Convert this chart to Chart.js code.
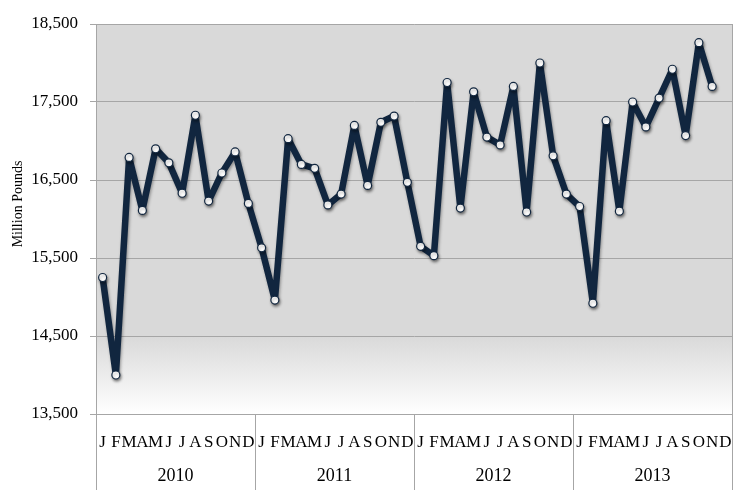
<!DOCTYPE html>
<html>
<head>
<meta charset="utf-8">
<script src="https://cdn.jsdelivr.net/npm/chart.js@4/dist/chart.umd.min.js"></script>
<style>
  html, body { margin: 0; padding: 0; background: #ffffff; }
  #wrap { width: 744px; height: 490px; position: relative; }
</style>
</head>
<body>
<div id="wrap"><canvas id="c" width="744" height="490"></canvas></div>
<script>
// ---- Data ----
const monthLetters = ['J', 'F', 'M', 'A', 'M', 'J', 'J', 'A', 'S', 'O', 'N', 'D'];
const years = ['2010', '2011', '2012', '2013'];
const values2010 = [15250, 14000, 16790, 16110, 16900, 16720, 16330, 17330, 16230, 16590, 16860, 16200];
const values2011 = [15630, 14960, 17030, 16700, 16650, 16180, 16320, 17200, 16430, 17240, 17320, 16470];
const values2012 = [15650, 15530, 17750, 16140, 17630, 17050, 16950, 17700, 16090, 18000, 16810, 16320];
const values2013 = [16160, 14920, 17260, 16100, 17500, 17180, 17550, 17920, 17070, 18260, 17700, null];
const yAxisTitle = 'Million Pounds';
const yMin = 13500, yMax = 18500, yStep = 1000;

// ---- Build tables for the library ----
const labels = years.flatMap(() => monthLetters);
const series = [].concat(values2010, values2011, values2012, values2013);

const FONT = "'Liberation Serif', 'Times New Roman', serif";
const GRID = '#a6a6a6';
const LINE = '#11263f';

const decor = {
  id: 'decor',
  beforeDraw(chart) {
    const { ctx, chartArea: a } = chart;
    const g = ctx.createLinearGradient(0, a.top, 0, a.bottom);
    g.addColorStop(0, '#d9d9d9');
    g.addColorStop(0.8, '#d9d9d9');
    g.addColorStop(1, '#ffffff');
    ctx.save();
    ctx.fillStyle = g;
    ctx.fillRect(a.left, a.top, a.right - a.left, a.bottom - a.top);
    ctx.restore();
  },
  afterDraw(chart) {
    const { ctx, chartArea: a } = chart;
    const x = chart.scales.x;
    ctx.save();
    ctx.strokeStyle = GRID;
    ctx.lineWidth = 1;
    ctx.beginPath();
    ctx.moveTo(a.right + 0.5, a.top);
    ctx.lineTo(a.right + 0.5, a.bottom);
    ctx.stroke();
    for (let i = 0; i <= years.length; i++) {
      const px = Math.round(x.getPixelForValue(i * monthLetters.length - 0.5)) + 0.5;
      ctx.beginPath();
      ctx.moveTo(px, a.bottom);
      ctx.lineTo(px, chart.height);
      ctx.stroke();
    }
    ctx.fillStyle = '#000000';
    ctx.font = '14px ' + FONT;
    ctx.textAlign = 'center';
    ctx.textBaseline = 'middle';
    ctx.translate(18, 204);
    ctx.rotate(-Math.PI / 2);
    ctx.fillText(yAxisTitle, 0, 0);
    ctx.restore();
  },
  beforeDatasetDraw(chart) {
    const ctx = chart.ctx;
    ctx.save();
    ctx.shadowColor = 'rgba(0,0,0,0.35)';
    ctx.shadowBlur = 3;
    ctx.shadowOffsetX = 1;
    ctx.shadowOffsetY = 2;
  },
  afterDatasetDraw(chart) {
    chart.ctx.restore();
  }
};

new Chart(document.getElementById('c'), {
  type: 'line',
  data: {
    labels: labels,
    datasets: [{
      data: series,
      borderColor: LINE,
      borderWidth: 6.5,
      borderJoinStyle: 'round',
      borderCapStyle: 'round',
      tension: 0,
      pointRadius: 4,
      pointBackgroundColor: '#ffffff',
      pointBorderColor: LINE,
      pointBorderWidth: 1.2,
      spanGaps: false
    }]
  },
  options: {
    responsive: false,
    animation: false,
    devicePixelRatio: 1,
    layout: { padding: { left: 0, right: 12, top: 24, bottom: 0 } },
    plugins: { legend: { display: false }, tooltip: { enabled: false } },
    scales: {
      x: {
        type: 'category',
        position: 'bottom',
        offset: true,
        weight: 0,
        grid: { display: false, drawOnChartArea: false },
        border: { display: false },
        ticks: {
          autoSkip: false, maxRotation: 0, minRotation: 0,
          color: '#000000', padding: 10,
          font: { family: FONT, size: 17 }
        },
        afterFit(s) { s.height = 42; }
      },
      x2: {
        type: 'category',
        position: 'bottom',
        labels: years,
        offset: true,
        weight: 1,
        grid: { display: false },
        border: { display: false },
        ticks: {
          autoSkip: false, maxRotation: 0, minRotation: 0,
          color: '#000000', padding: 1,
          font: { family: FONT, size: 18 }
        },
        afterFit(s) { s.height = 34; }
      },
      y: {
        min: yMin, max: yMax,
        ticks: {
          stepSize: yStep, color: '#000000', padding: 12,
          font: { family: FONT, size: 17 }
        },
        grid: { color: GRID, lineWidth: 1, tickLength: 6 },
        border: { display: true, color: GRID },
        afterFit(s) { s.width = 96; }
      }
    }
  },
  plugins: [decor]
});
</script>
</body>
</html>
